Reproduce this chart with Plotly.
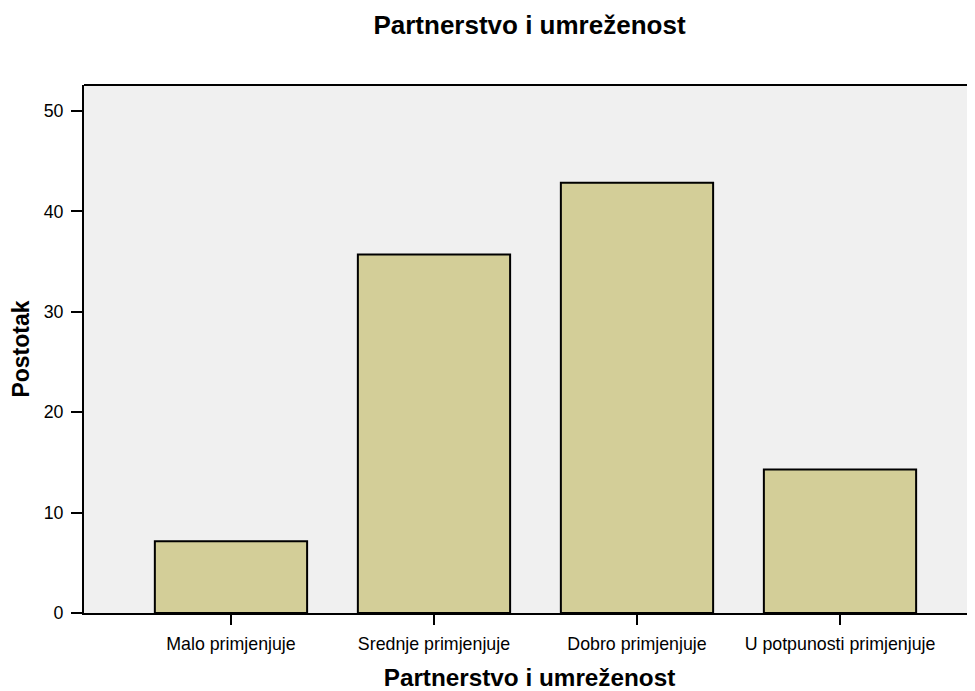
import plotly.graph_objects as go

categories = ["Malo primjenjuje", "Srednje primjenjuje", "Dobro primjenjuje", "U potpunosti primjenjuje"]
percent = [7.14, 35.71, 42.86, 14.29]
y_ticks = [0, 10, 20, 30, 40, 50]

FONT = "Liberation Sans, Arial, sans-serif"

fig = go.Figure(
    go.Bar(
        x=categories,
        y=percent,
        width=0.75,
        marker=dict(color="#D3CE98", line=dict(color="black", width=2)),
        hoverinfo="x+y",
    )
)

# page body has an 8px margin, so the figure is sized/offset accordingly
fig.update_layout(
    width=967,
    height=683,
    margin=dict(l=76, r=0, t=77, b=78),
    paper_bgcolor="white",
    plot_bgcolor="#F0F0F0",
    showlegend=False,
    font=dict(family=FONT, color="black", size=17),
    title=dict(
        text="<b>Partnerstvo i umreženost</b>",
        x=0.5,
        xanchor="center",
        xref="paper",
        y=0.975,
        yanchor="middle",
        font=dict(size=26, family=FONT, color="black"),
    ),
    xaxis=dict(
        type="category",
        range=[-0.724, 3.665],
        showline=True,
        linecolor="black",
        linewidth=2,
        ticks="outside",
        ticklen=10,
        tickwidth=2,
        tickcolor="black",
        ticklabelstandoff=4,
        showgrid=False,
        zeroline=False,
        tickfont=dict(size=17.8, family=FONT),
        title=dict(text="<b>Partnerstvo i umreženost</b>", font=dict(size=24.3, family=FONT), standoff=16),
    ),
    yaxis=dict(
        range=[0, 52.6],
        tickvals=y_ticks,
        showline=True,
        linecolor="black",
        linewidth=2,
        ticks="outside",
        ticklen=11,
        tickwidth=2,
        tickcolor="black",
        ticklabelstandoff=4,
        showgrid=False,
        zeroline=False,
        tickfont=dict(size=17.8, family=FONT),
        title=dict(text="<b>Postotak</b>", font=dict(size=23, family=FONT), standoff=11),
    ),
    shapes=[
        dict(type="line", xref="paper", yref="paper", x0=0, x1=1, y0=1, y1=1,
             line=dict(color="black", width=2))
    ],
)

fig.write_html("out.html")
